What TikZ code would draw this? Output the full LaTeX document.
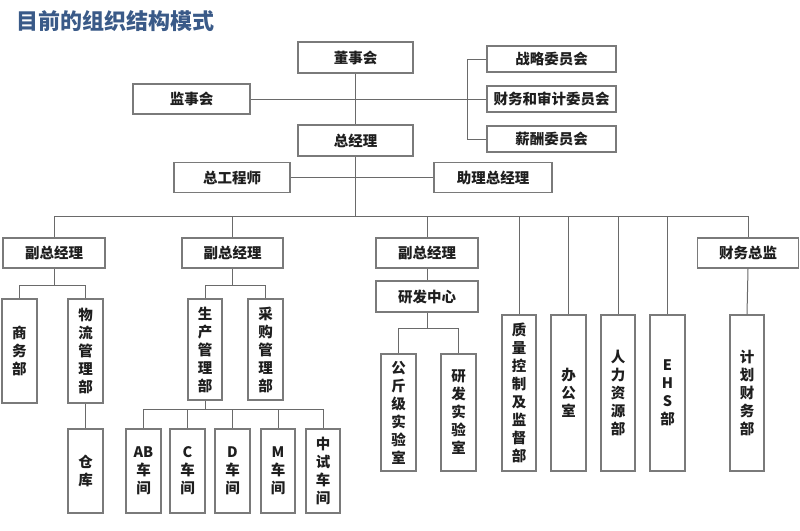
\documentclass[tikz,border=0pt]{standalone}
\usepackage{fontspec}
\setmainfont{Noto Sans CJK SC}
\newfontfamily\cjk{Noto Sans CJK SC}
\definecolor{titleblue}{HTML}{3A5A88}
\definecolor{boxgray}{HTML}{7A7A7A}
\definecolor{linegray}{HTML}{6A6A6A}
\definecolor{txt}{HTML}{1E1E1E}
\begin{document}
\begin{tikzpicture}[x=1pt,y=-1pt,
  box/.style={draw=boxgray,line width=1.3pt,inner sep=0pt,text=txt,
    font=\cjk\bfseries\fontsize{14.5}{18}\selectfont,align=center},
  hbox/.style={box,minimum height=30pt},
  vbox/.style={box},
  conn/.style={draw=linegray,line width=1pt}]
\useasboundingbox (0,0) rectangle (800,530);
\node[anchor=west,text=titleblue,font=\cjk\bfseries\fontsize{22}{26}\selectfont] (title) at (13,21) {目前的组织结构模式};
% top level
\node[hbox,minimum width=115pt,minimum height=31pt] (dsh) at (355.5,57.5) {董事会};
\node[hbox,minimum width=117pt] (jsh) at (191.5,99) {监事会};
\node[hbox,minimum width=129pt,minimum height=26pt] (zl) at (551.5,59) {战略委员会};
\node[hbox,minimum width=129pt,minimum height=26pt] (cwsj) at (551.5,99) {财务和审计委员会};
\node[hbox,minimum width=129pt,minimum height=26pt] (xc) at (551.5,139) {薪酬委员会};
\node[hbox,minimum width=115pt,minimum height=31pt] (zjl) at (355.5,140.5) {总经理};
\node[hbox,minimum width=116pt] (zgcs) at (232,177.5) {总工程师};
\node[hbox,minimum width=118pt] (zlzjl) at (493,177.5) {助理总经理};
% second level
\node[hbox,minimum width=102pt] (fz1) at (54,253) {副总经理};
\node[hbox,minimum width=101pt] (fz2) at (232.5,253) {副总经理};
\node[hbox,minimum width=102pt] (fz3) at (427,253) {副总经理};
\node[hbox,minimum width=101pt] (cwzj) at (748,253) {财务总监};
\node[hbox,minimum width=102pt,minimum height=31pt] (yfzx) at (427,296.5) {研发中心};
% third level
\node[vbox,minimum width=35pt,minimum height=104pt] (swb) at (19.5,351) {商\\务\\部};
\node[vbox,minimum width=35pt,minimum height=104pt] (wl) at (85.5,351) {物\\流\\管\\理\\部};
\node[vbox,minimum width=35pt,minimum height=84pt] (ck) at (85.5,471) {仓\\库};
\node[vbox,minimum width=34pt,minimum height=101pt] (sc) at (205,349.5) {生\\产\\管\\理\\部};
\node[vbox,minimum width=35pt,minimum height=101pt] (cg) at (265.5,349.5) {采\\购\\管\\理\\部};
\node[vbox,minimum width=35pt,minimum height=84pt] (ab) at (143.5,471) {AB\\车\\间};
\node[vbox,minimum width=35pt,minimum height=84pt] (cc) at (187.5,471) {C\\车\\间};
\node[vbox,minimum width=35pt,minimum height=84pt] (dd) at (232.5,471) {D\\车\\间};
\node[vbox,minimum width=34pt,minimum height=84pt] (mm) at (278,471) {M\\车\\间};
\node[vbox,minimum width=34pt,minimum height=84pt] (zs) at (323,471) {中\\试\\车\\间};
\node[vbox,minimum width=35pt,minimum height=117pt] (gjj) at (398.5,412.5) {公\\斤\\级\\实\\验\\室};
\node[vbox,minimum width=35pt,minimum height=117pt] (yfs) at (458.5,412.5) {研\\发\\实\\验\\室};
\node[vbox,minimum width=34pt,minimum height=156pt] (zlkz) at (519,393) {质\\量\\控\\制\\及\\监\\督\\部};
\node[vbox,minimum width=35pt,minimum height=156pt] (bgs) at (568.5,393) {办\\公\\室};
\node[vbox,minimum width=34pt,minimum height=156pt] (rlzy) at (618,393) {人\\力\\资\\源\\部};
\node[vbox,minimum width=35pt,minimum height=156pt] (ehs) at (667.5,393) {E\\H\\S\\部};
\node[vbox,minimum width=34pt,minimum height=156pt] (jhcw) at (747,393) {计\\划\\财\\务\\部};
% helper levels
\coordinate (bus) at (0,216);
\coordinate (brk) at (467,0);
\coordinate (lv1) at (0,285);
\coordinate (lv2) at (0,409);
\coordinate (lv3) at (0,328);
% connectors: top
\draw[conn] (dsh.south) -- (zjl.north);
\draw[conn] (jsh.east) -- (jsh.east -| cwsj.west);
\draw[conn] (zl.west) -- (zl.west -| brk) -- (xc.west -| brk) -- (xc.west);
\draw[conn] (zgcs.east) -- (zgcs.east -| zlzjl.west);
\draw[conn] (zjl.south) -- (zjl.south |- bus);
\draw[conn] (fz1.north |- bus) -- (cwzj.north |- bus);
\foreach \n in {fz1,fz2,fz3,zlkz,bgs,rlzy,ehs,cwzj}
  \draw[conn] (\n.north |- bus) -- (\n.north);
% branch 1
\draw[conn] (fz1.south) -- (fz1.south |- lv1);
\draw[conn] (swb.north) -- (swb.north |- lv1) -- (wl.north |- lv1) -- (wl.north);
\draw[conn] (wl.south) -- (ck.north);
% branch 2
\draw[conn] (fz2.south) -- (fz2.south |- lv1);
\draw[conn] (sc.north) -- (sc.north |- lv1) -- (cg.north |- lv1) -- (cg.north);
\draw[conn] (sc.south) -- (sc.south |- lv2);
\draw[conn] (ab.north |- lv2) -- (zs.north |- lv2);
\foreach \n in {ab,cc,dd,mm,zs}
  \draw[conn] (\n.north |- lv2) -- (\n.north);
% branch 3
\draw[conn] (fz3.south) -- (yfzx.north);
\draw[conn] (yfzx.south) -- (yfzx.south |- lv3);
\draw[conn] (gjj.north) -- (gjj.north |- lv3) -- (yfs.north |- lv3) -- (yfs.north);
% finance
\draw[conn] (cwzj.south) -- (jhcw.north);
\end{tikzpicture}
\end{document}
